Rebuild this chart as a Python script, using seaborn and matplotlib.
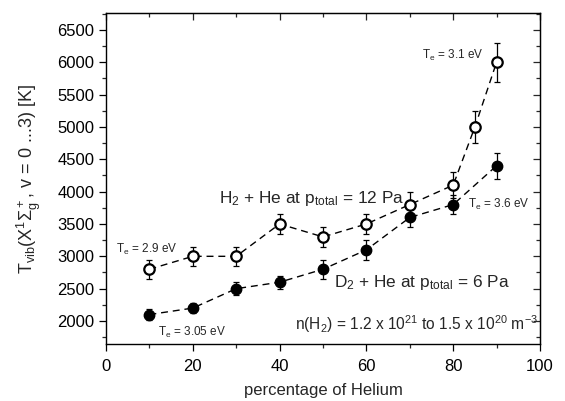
import matplotlib
matplotlib.use("Agg")
import matplotlib.pyplot as plt
import seaborn as sns
import pandas as pd
import numpy as np

sns.set_style("ticks")
plt.rcParams['font.family'] = ['Liberation Sans', 'DejaVu Sans']
plt.rcParams['mathtext.fontset'] = 'custom'
plt.rcParams['mathtext.rm'] = 'Liberation Sans'
plt.rcParams['mathtext.it'] = 'Liberation Sans'
plt.rcParams['mathtext.bf'] = 'Liberation Sans'

# Data
h2_x = [10, 20, 30, 40, 50, 60, 70, 80, 85, 90]
h2_y = [2800, 3000, 3000, 3500, 3300, 3500, 3800, 4100, 5000, 6000]
h2_err = [150, 150, 150, 150, 150, 150, 200, 200, 250, 300]

d2_x = [10, 20, 30, 40, 50, 60, 70, 80, 90]
d2_y = [2100, 2200, 2500, 2600, 2800, 3100, 3600, 3800, 4400]
d2_err = [80, 80, 100, 100, 150, 150, 150, 150, 200]

xticks = [0, 20, 40, 60, 80, 100]
yticks = [2000, 2500, 3000, 3500, 4000, 4500, 5000, 5500, 6000, 6500]

df_h2 = pd.DataFrame({'x': h2_x, 'y': h2_y})
df_d2 = pd.DataFrame({'x': d2_x, 'y': d2_y})

fig = plt.figure(figsize=(5.65, 4.01), dpi=100)
ax = fig.add_axes([106/565, 1-344/401, 434/565, 331/401])

dash = (5, 3.5)
sns.lineplot(data=df_h2, x='x', y='y', ax=ax, color='black', lw=1.0, marker='o',
             markersize=7.5, markerfacecolor='white', markeredgecolor='black',
             markeredgewidth=1.6, zorder=3)
sns.lineplot(data=df_d2, x='x', y='y', ax=ax, color='black', lw=1.0, marker='o',
             markersize=7.5, markerfacecolor='black', markeredgecolor='black',
             markeredgewidth=1.0, zorder=3)
for l in list(ax.lines):
    l.set_dashes(dash)

ax.errorbar(h2_x, h2_y, yerr=h2_err, fmt='none', ecolor='black', elinewidth=0.9, capsize=2.5, capthick=0.9, zorder=2)
ax.errorbar(d2_x, d2_y, yerr=d2_err, fmt='none', ecolor='black', elinewidth=0.9, capsize=2.5, capthick=0.9, zorder=2)

ax.set_xlim(0, 100)
ax.set_ylim(1645, 6760)
ax.set_xticks(xticks)
ax.set_yticks(yticks)
ax.set_xticks(np.arange(0, 101, 10), minor=True)
ax.set_yticks(np.arange(1750, 6760, 250), minor=True)
ax.tick_params(axis='both', which='major', direction='out', length=5, width=0.9, labelsize=12, colors='black')
ax.tick_params(axis='both', which='minor', direction='out', length=3, width=0.9)
ax.tick_params(axis='x', which='major', pad=6)
ax.tick_params(axis='y', which='major', pad=3.5)

top = ax.secondary_xaxis('top')
top.set_xticks(xticks)
top.set_xticks(np.arange(0, 101, 10), minor=True)
top.tick_params(which='major', direction='in', length=5, width=0.9, labeltop=False)
top.tick_params(which='minor', direction='in', length=3, width=0.9)
right = ax.secondary_yaxis('right')
right.set_yticks(yticks)
right.set_yticks(np.arange(1750, 6760, 250), minor=True)
right.tick_params(which='major', direction='in', length=5, width=0.9, labelright=False)
right.tick_params(which='minor', direction='in', length=3, width=0.9)

for s in ax.spines.values():
    s.set_visible(True)
    s.set_linewidth(1.0)
    s.set_color('black')

ax.set_xlabel('percentage of Helium', fontsize=12, labelpad=6)
ax.set_ylabel(r'T$_{\mathrm{vib}}$(X$^1\Sigma_g^+$, v = 0 ...3) [K]', fontsize=13, labelpad=10)

ax.text(87, 6110, r'T$_e$ = 3.1 eV', fontsize=8.5, ha='right', va='center')
ax.text(26, 3900, r'H$_2$ + He at p$_{\mathrm{total}}$ = 12 Pa', fontsize=12.4, ha='left', va='center')
ax.text(83.4, 3800, r'T$_e$ = 3.6 eV', fontsize=8.5, ha='left', va='center')
ax.text(2.3, 3100, r'T$_e$ = 2.9 eV', fontsize=8.5, ha='left', va='center')
ax.text(52.6, 2590, r'D$_2$ + He at p$_{\mathrm{total}}$ = 6 Pa', fontsize=12.4, ha='left', va='center')
ax.text(12, 1830, r'T$_e$ = 3.05 eV', fontsize=8.5, ha='left', va='center')
ax.text(99.6, 1950, r'n(H$_2$) = 1.2 x 10$^{21}$ to 1.5 x 10$^{20}$ m$^{-3}$', fontsize=11.2, ha='right', va='center')

fig.savefig('out.png', dpi=100)
